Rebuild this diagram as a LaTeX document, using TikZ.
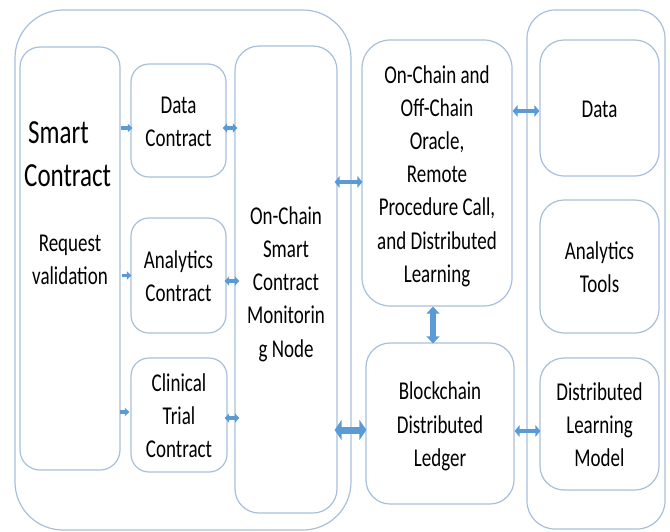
\documentclass[tikz,border=0pt]{standalone}
\usepackage{fontspec}
\setmainfont{Carlito}
\usetikzlibrary{arrows.meta,calc}
\definecolor{edge}{HTML}{A7BFDB}
\definecolor{flow}{HTML}{5B9BD5}
% tall multi-line labels, set slightly below the node centre
\newcommand{\tallc}[1]{\raisebox{-3pt}[\height][\depth]{\scalebox{1}[1.35]{\begin{tabular}{@{}c@{}}#1\end{tabular}}}}
\newcommand{\talll}[1]{\raisebox{-3pt}[\height][\depth]{\scalebox{1}[1.35]{\begin{tabular}{@{}l@{}}#1\end{tabular}}}}
\begin{document}
\begin{tikzpicture}[x=1pt,y=-1pt,
  box/.style={draw=edge,line width=1.2pt,rounded corners=#1,inner sep=0pt,
    font=\fontsize{19}{24.6}\selectfont},
  box/.default=18pt,
  txt/.style={inner sep=0pt,font=\fontsize{19}{24.6}\selectfont},
  sarr/.style={draw=flow,line width=3.2pt,-{Triangle[length=4.5pt,width=8pt]}},
  darr/.style={draw=flow,line width=3.4pt,
    {Triangle[length=4.5pt,width=9pt]}-{Triangle[length=4.5pt,width=9pt]}},
  marr/.style={draw=flow,line width=4.6pt,
    {Triangle[length=5pt,width=11.5pt]}-{Triangle[length=5pt,width=11.5pt]}},
  barr/.style={draw=flow,line width=7pt,
    {Triangle[length=7pt,width=20pt]}-{Triangle[length=7pt,width=20pt]}},
  varr/.style={draw=flow,line width=5.5pt,
    {Triangle[length=7pt,width=13pt]}-{Triangle[length=7pt,width=13pt]}}]
\useasboundingbox (0,0) rectangle (670,531);

% outer groups
\node[box=48pt,minimum width=336pt,minimum height=520pt] (lc) at (183,270) {};
\node[box=28pt,minimum width=138pt,minimum height=519pt] (rc) at (596,269.5) {};

% smart contract column
\node[box=20pt,minimum width=100pt,minimum height=423pt] (sc) at (70,258.5) {};
\node[txt,anchor=west,font=\fontsize{25}{32}\selectfont] (sct) at (24,153)
  {\talll{\hspace{4pt}Smart\\Contract}};
\node[txt] (rv) at (70,258) {\tallc{Request\\validation}};

% contracts
\node[box,minimum width=95pt,minimum height=113pt] (dc) at (178.5,120.5)
  {\tallc{Data\\Contract}};
\node[box,minimum width=95pt,minimum height=115pt] (ac) at (178.5,275.5)
  {\tallc{Analytics\\Contract}};
\node[box,minimum width=96pt,minimum height=114pt] (ct) at (179,415)
  {\tallc{Clinical\\Trial\\Contract}};

% monitoring node
\node[box=24pt,minimum width=102pt,minimum height=467pt] (mon) at (286,279.5) {};
\node[txt] (mont) at (286,281)
  {\tallc{On-Chain\\Smart\\Contract\\Monitorin\\g Node}};

% oracle and ledger
\node[box=28pt,minimum width=150pt,minimum height=266pt] (orc) at (437,173)
  {\tallc{On-Chain and\\Off-Chain\\Oracle,\\Remote\\Procedure Call,\\and Distributed\\Learning}};
\node[box=24pt,minimum width=148pt,minimum height=161pt] (bdl) at (440,423.5)
  {\tallc{Blockchain\\Distributed\\Ledger}};

% resources
\node[box=24pt,minimum width=119pt,minimum height=136pt] (data) at (599.5,108)
  {\tallc{Data}};
\node[box=24pt,minimum width=119pt,minimum height=133pt] (at) at (599.5,266.5)
  {\tallc{Analytics\\Tools}};
\node[box=24pt,minimum width=119pt,minimum height=132pt] (dlm) at (599.5,424)
  {\tallc{Distributed\\Learning\\Model}};

% connectors
\draw[sarr] ($(sc.east |- dc.west)+(0,7.5)$) -- ($(dc.west)+(2,7.5)$);
\draw[darr] ($(dc.east)+(-4,7.5)$) -- ($(mon.west |- dc.east)+(3,7.5)$);
\draw[sarr] ($(sc.east |- ac.west)+(1,0)$) -- ($(ac.west)+(1,0)$);
\draw[darr] ($(ac.east)+(-2,5.5)$) -- ($(mon.west |- ac.east)+(5,5.5)$);
\draw[sarr] ($(sc.east |- ct.west)+(-1,-3)$) -- ($(ct.west)+(-1,-3)$);
\draw[darr] ($(ct.east)+(-3,3)$) -- ($(mon.west |- ct.east)+(5,3)$);
\draw[marr] ($(mon.east |- orc.west)+(-3,9)$) -- ($(orc.west)+(1,9)$);
\draw[barr] ($(mon.east |- bdl.west)+(-3,6.5)$) -- ($(bdl.west)+(1,6.5)$);
\draw[marr] ($(orc.east |- data.west)+(0,3)$) -- ($(data.west)+(0,3)$);
\draw[varr] ($(orc.south)+(-4,0)$) -- ($(bdl.north)+(-7,1)$);
\draw[marr] ($(bdl.east |- dlm.west)+(0,7)$) -- ($(dlm.west)+(1,7)$);
\end{tikzpicture}
\end{document}
